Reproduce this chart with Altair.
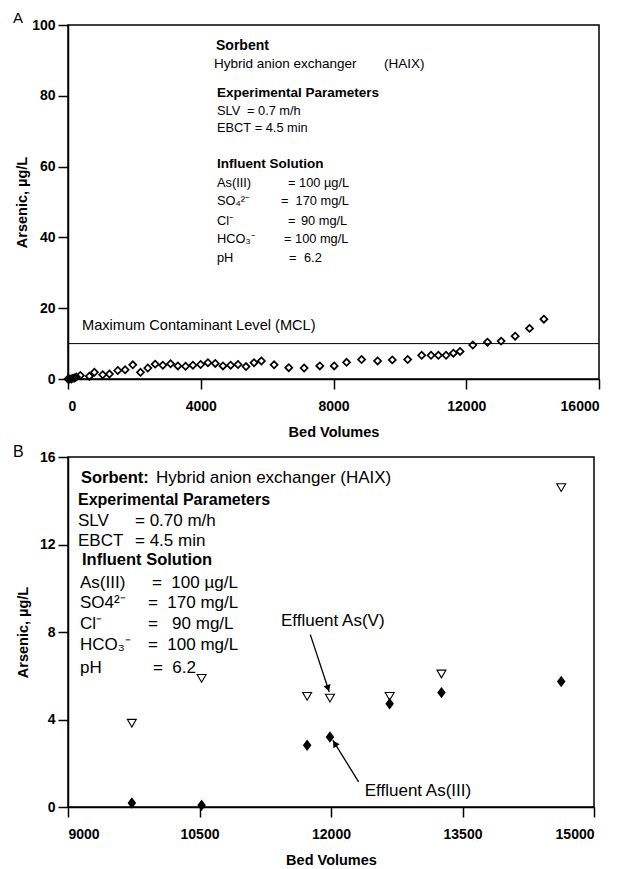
import math
import altair as alt
import pandas as pd

FONT = "Liberation Sans"
NB = "\u00a0"

# ---------------- Panel A data ----------------
bv_a = [0, 50, 100, 150, 200, 250, 372, 644, 795, 1046, 1248, 1500, 1721, 1952, 2184,
        2405, 2627, 2858, 3090, 3311, 3543, 3764, 3996, 4217, 4438, 4670, 4901, 5122,
        5364, 5606, 5827, 6210, 6652, 7115, 7588, 8021, 8393, 8846, 9329, 9772, 10235,
        10657, 10939, 11160, 11391, 11613, 11814, 12197, 12640, 13051, 13474, 13907, 14340]
as_a = [0, 0, 0, 0.2, 0.3, 0.6, 1.0, 0.8, 1.9, 1.2, 1.4, 2.4, 2.6, 4.0, 1.9,
        3.1, 4.2, 3.9, 4.3, 3.7, 3.6, 3.9, 4.1, 4.6, 4.4, 3.7, 3.9, 4.1,
        3.5, 4.6, 5.1, 4.0, 3.2, 3.1, 3.7, 3.7, 4.7, 5.5, 5.1, 5.4, 5.5,
        6.7, 6.7, 6.7, 6.7, 7.3, 7.8, 9.6, 10.4, 10.7, 12.1, 14.3, 16.9]
mcl_value = [10]

# ---------------- Panel B data ----------------
bv_b = [9728, 10524, 11728, 11988, 12669, 13260, 14626]
as5_b = [3.83, 5.88, 5.06, 4.98, 5.06, 6.08, 14.6]
as3_b = [0.18, 0.08, 2.82, 3.2, 4.72, 5.23, 5.74]

label_as5 = "Effluent As(V)"
label_as3 = "Effluent As(III)"
label_as5_pos = [12020, 8.5]
label_as3_pos = [12992, 0.75]
arrow_as5 = [11764, 7.88, 11980, 5.26]
arrow_as3 = [12315, 1.15, 12020, 3.06]

WA, HA = 531, 354
WB, HB = 526, 350
XA = [0, 16000]
YA = [0, 100]
XB = [9000, 15000]
YB = [0, 16]

dummy = pd.DataFrame({"d": [0]})


def txt(s, x, y, size=13, bold=False):
    return alt.Chart(dummy).mark_text(
        text=s.replace(" ", NB), font=FONT, fontSize=size,
        fontWeight="bold" if bold else "normal",
        align="left", baseline="middle", color="black"
    ).encode(x=alt.value(x), y=alt.value(y))


def xaxis(vals, title):
    return alt.Axis(values=vals, format="d", title=title, titlePadding=12,
                    labelPadding=10)


# ---------------- Panel A ----------------
dfa = pd.DataFrame({"bv": bv_a, "as": as_a})
xa = alt.X("bv:Q", scale=alt.Scale(domain=XA, nice=False, zero=False),
           axis=xaxis([0, 4000, 8000, 12000, 16000], "Bed Volumes"))
ya = alt.Y("as:Q", scale=alt.Scale(domain=YA, nice=False),
           axis=alt.Axis(values=[0, 20, 40, 60, 80, 100], title="Arsenic, µg/L",
                         titlePadding=2, labelPadding=3))

pts_a = alt.Chart(dfa).mark_point(shape="diamond", size=50, filled=False,
                                  color="black", strokeWidth=1.7, opacity=1).encode(x=xa, y=ya)
mcl = alt.Chart(pd.DataFrame({"m": mcl_value})).mark_rule(color="black", strokeWidth=1).encode(
    y=alt.Y("m:Q"))

S = 12.8
texts_a = [
    txt("A", -55, -7, size=15),
    txt("Sorbent", 148, 21, size=14, bold=True),
    txt("Hybrid anion exchanger", 146, 39, size=13.5),
    txt("(HAIX)", 316, 39, size=13.5),
    txt("Experimental Parameters", 149, 68, size=13.5, bold=True),
    txt("SLV", 149, 86, size=S),
    txt("= 0.7 m/h", 179, 86, size=S),
    txt("EBCT = 4.5 min", 149, 103, size=S),
    txt("Influent Solution", 149, 139, size=13.5, bold=True),
    txt("As(III)", 149, 158, size=S),
    txt("= 100 µg/L", 220, 158, size=S),
    txt("SO₄²⁻", 149, 176, size=S),
    txt("=  170 mg/L", 213, 176, size=S),
    txt("Cl⁻", 149, 196, size=S),
    txt("=", 220, 196, size=S),
    txt("90 mg/L", 233, 196, size=S),
    txt("HCO₃⁻", 149, 214, size=S),
    txt("= 100 mg/L", 216, 214, size=S),
    txt("pH", 149, 233, size=S),
    txt("=", 221, 233, size=S),
    txt("6.2", 236, 233, size=S),
    txt("Maximum Contaminant Level (MCL)", 14, 301, size=14.6),
]

panel_a = alt.layer(mcl, pts_a, *texts_a).properties(width=WA, height=HA)

# ---------------- Panel B ----------------
pxx = WB / (XB[1] - XB[0])
pxy = HB / (YB[1] - YB[0])


def head(arrow):
    x0, y0, x1, y1 = arrow
    dx = (x1 - x0) * pxx
    dy = -(y1 - y0) * pxy
    L = math.hypot(dx, dy)
    ux, uy = dx / L, dy / L
    ang = math.degrees(math.atan2(ux, -uy)) % 360
    hx = x1 - 4 * ux / pxx
    hy = y1 + 4 * uy / pxy
    return hx, hy, ang


dfb = pd.DataFrame({"bv": bv_b, "as5": as5_b, "as3": as3_b})
xb = alt.X("bv:Q", scale=alt.Scale(domain=XB, nice=False, zero=False),
           axis=xaxis([9000, 10500, 12000, 13500, 15000], "Bed Volumes"))
yb_axis = alt.Axis(values=[0, 4, 8, 12, 16], title="Arsenic, µg/L", titlePadding=9,
                   labelPadding=3)

tri = alt.Chart(dfb).mark_point(shape="triangle-down", size=80, filled=False, color="black",
                                strokeWidth=1.1, opacity=1).encode(
    x=xb, y=alt.Y("as5:Q", scale=alt.Scale(domain=YB, nice=False), axis=yb_axis))
dia = alt.Chart(dfb).mark_point(shape="M-0.75,0L0,-1L0.75,0L0,1Z", size=130, filled=True,
                                color="black", opacity=1).encode(
    x="bv:Q", y=alt.Y("as3:Q"))

arrow_layers = []
for arr in (arrow_as5, arrow_as3):
    hx, hy, ang = head(arr)
    d = pd.DataFrame({"bv": [arr[0]], "y": [arr[1]], "bv2": [arr[2]], "y2": [arr[3]],
                      "hx": [hx], "hy": [hy]})
    arrow_layers.append(alt.Chart(d).mark_rule(color="black", strokeWidth=1.3).encode(
        x="bv:Q", y="y:Q", x2="bv2:Q", y2="y2:Q"))
    arrow_layers.append(alt.Chart(d).mark_point(shape="triangle-up", size=55, filled=True,
                                                color="black", angle=round(ang, 1),
                                                opacity=1).encode(x="hx:Q", y="hy:Q"))

lab = pd.DataFrame({"bv": [label_as5_pos[0], label_as3_pos[0]],
                    "y": [label_as5_pos[1], label_as3_pos[1]],
                    "t": [label_as5, label_as3]})
labels_b = alt.Chart(lab).mark_text(font=FONT, fontSize=17, color="black").encode(
    x="bv:Q", y="y:Q", text="t:N")

texts_b = [
    txt("B", -55, -5, size=16),
    txt("Sorbent:", 13, 21, size=16.5, bold=True),
    txt("Hybrid anion exchanger (HAIX)", 88, 21, size=17),
    txt("Experimental Parameters", 10, 43, size=16, bold=True),
    txt("SLV", 10, 64, size=17),
    txt("= 0.70 m/h", 67, 64, size=17),
    txt("EBCT", 10, 84, size=17),
    txt("= 4.5 min", 67, 84, size=17),
    txt("Influent Solution", 14, 103, size=16.5, bold=True),
    txt("As(III)", 12, 126, size=17),
    txt("=  100 µg/L", 84, 126, size=17),
    txt("SO4²⁻", 12, 146, size=17),
    txt("=  170 mg/L", 80, 146, size=17),
    txt("Cl⁻", 12, 167, size=17),
    txt("=   90 mg/L", 80, 167, size=17),
    txt("HCO₃⁻", 12, 188, size=17),
    txt("=  100 mg/L", 80, 188, size=17),
    txt("pH", 12, 211, size=17),
    txt("=  6.2", 85, 211, size=17),
]

panel_b = alt.layer(tri, dia, *arrow_layers, labels_b, *texts_b).properties(width=WB, height=HB)

chart = alt.vconcat(panel_a, panel_b, spacing=3).properties(
    padding={"left": 4, "top": 2, "right": 5, "bottom": 5}, background="white"
).configure_view(stroke="black", strokeWidth=1.5).configure_axis(
    domainColor="black", domainWidth=1.5, tickColor="black", tickWidth=1.5, tickSize=10,
    labelFont=FONT, labelFontSize=14, labelFontWeight="bold", labelColor="black",
    titleFont=FONT, titleFontSize=14.5, titleFontWeight="bold", titleColor="black",
    grid=False
)

chart.save("out.html", embed_options={"renderer": "svg", "actions": False})
